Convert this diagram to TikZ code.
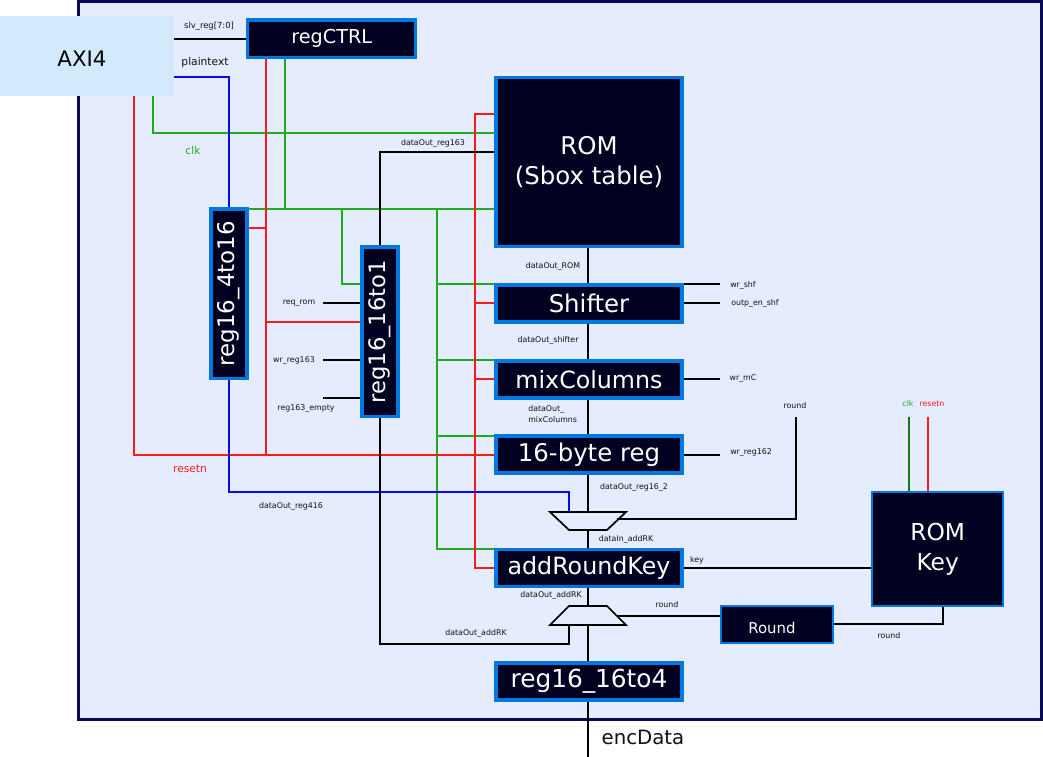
\documentclass[tikz,border=0pt]{standalone}
\usepackage{fontspec}
\usepackage{graphicx}
\setmainfont{DejaVu Sans}
\usetikzlibrary{backgrounds}
\definecolor{panelfill}{HTML}{E5ECFD}
\definecolor{paneledge}{HTML}{0A0A50}
\definecolor{axifill}{HTML}{D2EAFC}
\definecolor{blkfill}{HTML}{000020}
\definecolor{blkedge}{HTML}{0078E0}
\definecolor{wgreen}{HTML}{22A822}
\definecolor{wdkgreen}{HTML}{107A10}
\definecolor{wred}{HTML}{FF1A1A}
\definecolor{wblue}{HTML}{0808F0}
\definecolor{txt}{HTML}{101010}
\tikzset{
  x=0.75pt,y=-0.75pt,
  size/.style 2 args={minimum width=#1*0.75pt,minimum height=#2*0.75pt},
  blk/.style={draw=blkedge,fill=blkfill,line width=2.6pt,text=white,inner sep=0pt,align=center,font=\fontsize{18.3}{22.5}\selectfont},
  sm/.style={text=txt,inner sep=0pt,align=left,font=\fontsize{5.9}{7.6}\selectfont},
  md/.style={text=txt,inner sep=0pt,font=\fontsize{8}{10}\selectfont},
  bus/.style={black,line width=1.6pt},
  muxw/.style={black,line width=1.3pt},
  ctl/.style={black,line width=0.9pt},
  gw/.style={wgreen,line width=0.85pt},
  rw/.style={wred,line width=0.85pt},
  bw/.style={wblue,line width=2.1pt},
}
\begin{document}
\begin{tikzpicture}
\useasboundingbox (0,0) rectangle (1043,757);
% blocks
\node[fill=axifill,inner sep=0pt,size={174}{80}] (axi) at (87,56) {};
\node[blk,size={168}{37.5},font=\fontsize{14.4}{17}\selectfont] (ctrl) at (331.7,38.7) {regCTRL};
\node[blk,size={186}{169}] (rom) at (589,162) {ROM\\(Sbox table)};
\node[blk,size={186}{37}] (shf) at (589,303.5) {Shifter};
\node[blk,size={186}{37},font=\fontsize{17.8}{22}\selectfont] (mix) at (589,379.3) {mixColumns};
\node[blk,size={186}{37}] (reg) at (589,454.7) {16-byte reg};
\node[blk,size={186}{37},font=\fontsize{17.8}{22}\selectfont] (ark) at (589,568) {addRoundKey};
\node[blk,size={186}{37},font=\fontsize{18.6}{22}\selectfont] (out) at (589,681.3) {reg16\_16to4};
\node[blk,size={36}{169.5},font=\fontsize{17.2}{21}\selectfont] (rfour) at (229,293.7) {\rotatebox{90}{reg16\_4to16}};
\node[blk,size={36}{169.5},font=\fontsize{17}{21}\selectfont] (rone) at (380,331.7) {\rotatebox{90}{reg16\_16to1}};
\node[blk,size={130.7}{114},line width=1.7pt,font=\fontsize{17.5}{22.5}\selectfont] (rkey) at (937.7,549) {ROM\\Key};
\node[blk,size={112}{37},line width=1.7pt] (rnd) at (777,624.7) {};
% free ends
\coordinate (mAtl) at (550,512); \coordinate (mAtr) at (626,512);
\coordinate (mAbr) at (607,530); \coordinate (mAbl) at (569,530);
\coordinate (mBtl) at (569,606); \coordinate (mBtr) at (607,606);
\coordinate (mBbr) at (626,625); \coordinate (mBbl) at (550,625);
\coordinate (encEnd) at (588,757);
\coordinate (roundEnd) at (796,417);
\coordinate (clkEnd) at (909,417);
\coordinate (rstEnd) at (928,417);
\begin{scope}[on background layer]
\draw[fill=panelfill,draw=paneledge,line width=2.25pt] (78,1) rectangle (1041,719);
% clock
\draw[gw] (axi.south -| 153,0) -- (153,133) -- (rom.west |- 0,133);
\draw[gw] (ctrl.south -| 285,0) -- (285,209);
\draw[gw] (rfour.east |- 0,209) -- (rom.west |- 0,209);
\draw[gw] (342,209) -- (342,284) -- (rone.west |- 0,284);
\draw[gw] (437,209) -- (437,549) -- (ark.west |- 0,549);
\draw[gw] (437,284) -- (shf.west |- 0,284);
\draw[gw] (437,360) -- (mix.west |- 0,360);
\draw[gw] (437,436) -- (reg.west |- 0,436);
% reset
\draw[rw] (axi.south -| 134,0) -- (134,455) -- (reg.west |- 0,455);
\draw[rw] (ctrl.south -| 266,0) -- (266,455);
\draw[rw] (rfour.east |- 0,228) -- (266,228);
\draw[rw] (266,322) -- (rone.west |- 0,322);
\draw[rw] (rom.west |- 0,114) -- (475,114) -- (475,568) -- (ark.west);
\draw[rw] (475,303) -- (shf.west |- 0,303);
\draw[rw] (475,379) -- (mix.west |- 0,379);
% data
\draw[bus] (axi.east |- 0,39) -- (ctrl.west |- 0,39);
\draw[bw] (axi.east |- 0,77) -- (229,77) -- (rfour.north);
\draw[bw] (rfour.south) -- (229,492) -- (569,492) -- (569,512);
\draw[bus] (rom.west |- 0,152) -- (380,152) -- (rone.north);
\draw[bus] (rone.south) -- (380,644) -- (569,644) -- (569,625);
\draw[ctl] (323,303) -- (rone.west |- 0,303);
\draw[ctl] (323,360) -- (rone.west |- 0,360);
\draw[ctl] (323,398) -- (rone.west |- 0,398);
\draw[bus] (rom.south -| 588,0) -- (shf.north -| 588,0);
\draw[bus] (shf.south -| 588,0) -- (mix.north -| 588,0);
\draw[bus] (mix.south -| 588,0) -- (reg.north -| 588,0);
\draw[bus] (reg.south -| 588,0) -- (588,512);
\draw[bus] (588,530) -- (ark.north -| 588,0);
\draw[bus] (ark.south -| 588,0) -- (588,606);
\draw[bus] (588,625) -- (out.north -| 588,0);
\draw[bus] (out.south -| 588,0) -- (encEnd);
\draw[ctl] (shf.east |- 0,284) -- (720,284);
\draw[ctl] (shf.east |- 0,303) -- (720,303);
\draw[ctl] (mix.east |- 0,379) -- (720,379);
\draw[ctl] (reg.east |- 0,455) -- (720,455);
\draw[muxw] (roundEnd) -- (796,519) -- (617,519);
\draw[line width=2.2pt] (ark.east) -- (rkey.west |- ark.east);
\draw[muxw] (617,616) -- (rnd.west |- 0,616);
\draw[ctl] (rnd.east |- 0,624) -- (943,624) -- (rkey.south -| 943,0);
\draw[wdkgreen,line width=0.85pt] (clkEnd) -- (rkey.north -| 909,0);
\draw[rw] (rstEnd) -- (rkey.north -| 928,0);
\draw[muxw] (mAtl) -- (mAtr) -- (mAbr) -- (mAbl) -- cycle;
\draw[muxw] (mBtl) -- (mBtr) -- (mBbr) -- (mBbl) -- cycle;
\end{scope}
% labels
\node[inner sep=0pt,font=\fontsize{16}{19}\selectfont] (axilab) at (82,59) {AXI4};
\node[text=white,inner sep=0pt,font=\fontsize{11.2}{13}\selectfont] (rndlab) at (772,628) {Round};
\node[sm,font=\fontsize{6.3}{8}\selectfont] (l1) at (209,26) {slv\_reg[7:0]};
\node[md] (l2) at (205,63) {plaintext};
\node[md,text=wgreen] (l3) at (193,151) {clk};
\node[sm] (l4) at (433,143) {dataOut\_reg163};
\node[md,text=wred] (l5) at (190,469) {resetn};
\node[sm] (l6) at (291,506) {dataOut\_reg416};
\node[sm] (l7) at (299,303) {req\_rom};
\node[sm] (l8) at (294,361) {wr\_reg163};
\node[sm] (l9) at (306,409) {reg163\_empty};
\node[sm] (l10) at (553,266) {dataOut\_ROM};
\node[sm] (l11) at (743,285) {wr\_shf};
\node[sm] (l12) at (755,303) {outp\_en\_shf};
\node[sm] (l13) at (548,340) {dataOut\_shifter};
\node[sm] (l14) at (743,379) {wr\_mC};
\node[sm,anchor=west] (l15) at (528,414) {dataOut\_\\mixColumns};
\node[sm] (l16) at (795,406) {round};
\node[sm] (l17) at (751,453) {wr\_reg162};
\node[sm] (l18) at (634,487) {dataOut\_reg16\_2};
\node[sm] (l19) at (626,539) {dataIn\_addRK};
\node[sm] (l20) at (697,560) {key};
\node[sm] (l21) at (551,595) {dataOut\_addRK};
\node[sm] (l22) at (667,605) {round};
\node[sm] (l23) at (476,633) {dataOut\_addRK};
\node[sm] (l24) at (889,636) {round};
\node[sm,text=wgreen] (l25) at (908,404) {clk};
\node[sm,text=wred] (l26) at (932,404) {resetn};
\node[md,font=\fontsize{14.8}{17}\selectfont] (l27) at (643,737) {encData};
\end{tikzpicture}
\end{document}
